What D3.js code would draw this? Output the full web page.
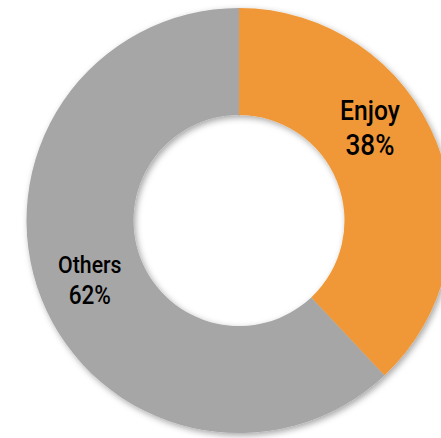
<!DOCTYPE html>
<html>
<head>
<meta charset="utf-8">
<script src="https://cdn.jsdelivr.net/npm/d3@7/dist/d3.min.js"></script>
<style>
  html, body { margin: 0; padding: 0; background: #fff; overflow: hidden; }
  svg { display: block; }
</style>
</head>
<body>
<svg id="chart" width="441" height="438"></svg>
<script>
// Share of respondents
const categories = ["Enjoy", "Others"];
const shares = [38, 62];
const colors = ["#F09837", "#A6A6A6"];

const width = 441, height = 438;
const cx = 239, cy = 220.5;
const outerR = 212.5, innerR = 105.5;
const labelR = 160.5;

const svg = d3.select("#chart");

// soft shadow under the ring
const defs = svg.append("defs");
const f = defs.append("filter").attr("id", "shadow")
  .attr("x", "-20%").attr("y", "-20%").attr("width", "140%").attr("height", "140%");
f.append("feDropShadow")
  .attr("dx", 2).attr("dy", 2.5).attr("stdDeviation", 3)
  .attr("flood-color", "#000").attr("flood-opacity", 0.35);

const pie = d3.pie().sort(null).value(d => d.v);
const arcs = pie(categories.map((c, i) => ({ c, v: shares[i], col: colors[i] })));

const arc = d3.arc().innerRadius(innerR).outerRadius(outerR);

const g = svg.append("g").attr("transform", `translate(${cx},${cy})`);

g.append("g").attr("filter", "url(#shadow)")
  .selectAll("path")
  .data(arcs)
  .join("path")
  .attr("d", arc)
  .attr("fill", d => d.data.col);

// label text: category name over its percentage, in a narrowed face
const nameSize = { Enjoy: 28, Others: 24.2 };
const pctScale = 1.06;   // percentage line is set a touch larger
const squeeze = 0.88;
const lineGap = 1.2;     // baseline to baseline, in units of the percentage size
const capH = 0.711;

const labels = g.selectAll("g.lbl")
  .data(arcs)
  .join("g")
  .attr("class", "lbl");

const txt = labels.append("text")
  .attr("text-anchor", "middle")
  .attr("font-family", "Roboto, 'DejaVu Sans Condensed', sans-serif")
  .attr("font-weight", 500)
  .attr("fill", "#000")
  .attr("transform", `scale(${squeeze},1)`);

function layout(d) {
  const n = nameSize[d.data.c], p = n * pctScale;
  const gap = p * lineGap;
  const h = capH * n + gap;
  const y0 = -h / 2 + capH * n;
  return { n, p, y0, y1: y0 + gap };
}

txt.append("tspan")
  .attr("x", 0)
  .attr("y", d => layout(d).y0)
  .attr("font-size", d => layout(d).n)
  .text(d => d.data.c);
txt.append("tspan")
  .attr("x", 0)
  .attr("y", d => layout(d).y1)
  .attr("font-size", d => layout(d).p)
  .text(d => d.data.v + "%");

// place each label at the slice middle; turn it back toward the slice start
// while it would sit too close to the right edge of the view
labels.attr("transform", function(d) {
  const w = this.getBBox().width;   // already in the group's (squeezed) units
  let a = (d.startAngle + d.endAngle) / 2;
  while (cx + labelR * Math.sin(a) + w / 2 > width - 41 && a > d.startAngle + 0.2) a -= 0.004;
  return `translate(${labelR * Math.sin(a)},${-labelR * Math.cos(a)})`;
});
</script>
</body>
</html>
